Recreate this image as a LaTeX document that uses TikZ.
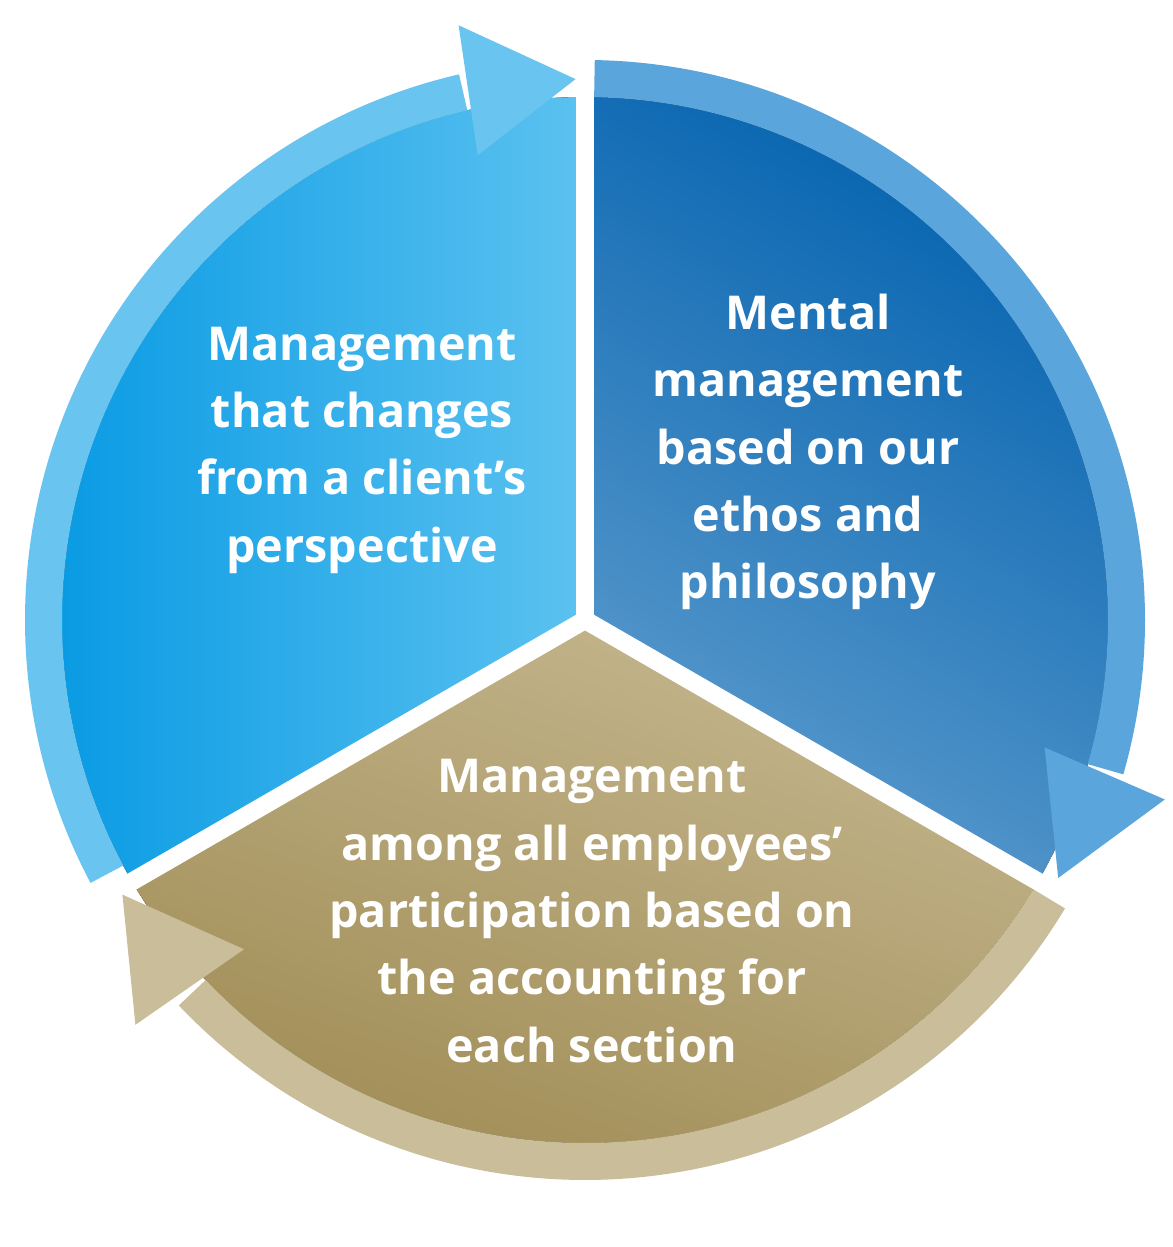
\documentclass[tikz,border=0pt]{standalone}
\usepackage{fontspec}
\setmainfont{Open Sans}
\usetikzlibrary{calc}
\definecolor{lbring}{HTML}{6AC4F0}
\definecolor{dbring}{HTML}{5AA5DC}
\definecolor{tanring}{HTML}{C9BD9A}
\definecolor{lbA}{HTML}{0A9BE4}
\definecolor{lbB}{HTML}{5CC2F0}
\definecolor{dbA}{HTML}{0060AE}
\definecolor{dbB}{HTML}{5A9ACC}
\definecolor{tnA}{HTML}{9E8A52}
\definecolor{tnB}{HTML}{C4B68E}
\tikzset{lbl/.style={text=white,font=\bfseries\fontsize{35}{50.5}\selectfont,align=center}}
\begin{document}
\begin{tikzpicture}[x=0.75pt,y=0.75pt]
\useasboundingbox (0,0) rectangle (1173,1247);
\begin{scope}[shift={(585,627)}]
\coordinate (c) at (0,0);
% sectors
\fill[left color=lbA,right color=lbB] (c) -- (90:523) arc[start angle=90,end angle=210,radius=523] -- cycle;
\fill[left color=dbA,right color=dbB,shading angle=-30] (c) -- (-30:523) arc[start angle=-30,end angle=90,radius=523] -- cycle;
\fill[top color=tnB,bottom color=tnA,shading angle=-20] (c) -- (210:523) arc[start angle=210,end angle=330,radius=523] -- cycle;
% gaps
\draw[white,line width=13.5pt] (c) -- (90:600);
\draw[white,line width=13.5pt] (c) -- (-30:600);
\draw[white,line width=13.5pt] (c) -- (210:600);
% rings
\fill[lbring] (208:523) arc[start angle=208,end angle=103,radius=523] -- (103:560) arc[start angle=103,end angle=208,radius=560] -- cycle;
\fill[lbring] (103:477) -- (91:541) -- (102:608) -- cycle;
\fill[dbring] (89:523) arc[start angle=89,end angle=-16,radius=523] -- (-16:560) arc[start angle=-16,end angle=89,radius=560] -- cycle;
\fill[dbring] (-15.5:477) -- (-28.6:539) -- (-17.2:607) -- cycle;
\fill[tanring] (-31:523) arc[start angle=-31,end angle=-136.5,radius=523] -- (-136.5:560) arc[start angle=-136.5,end angle=-31,radius=560] -- cycle;
\fill[tanring] (224:474) -- (210.7:538) -- (222:605) -- cycle;
\end{scope}
\node[lbl] (t1) at (362,797) {Management\\that changes\\from a client’s\\perspective};
\node[lbl] (t2) at (808,795) {Mental\\management\\based on our\\ethos and\\philosophy};
\node[lbl] (t3) at (592,336) {Management\\among all employees’\\participation based on\\the accounting for\\each section};
\end{tikzpicture}
\end{document}
